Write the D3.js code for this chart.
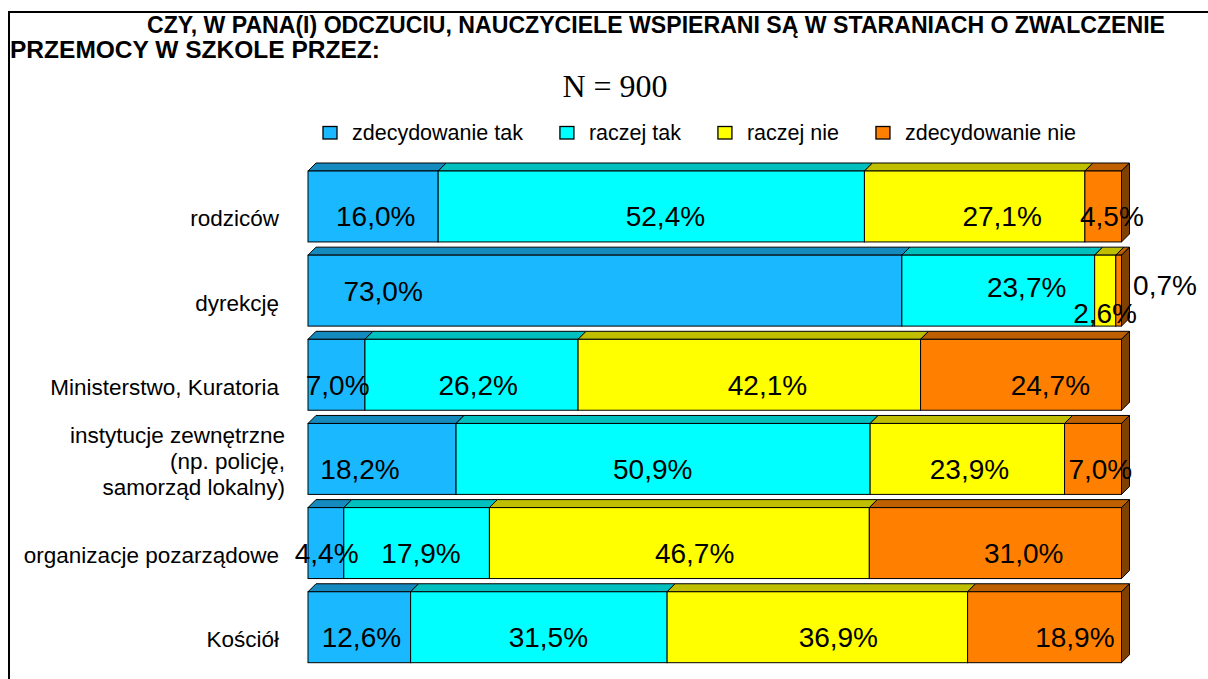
<!DOCTYPE html>
<html lang="pl">
<head>
<meta charset="utf-8">
<script src="https://cdn.jsdelivr.net/npm/d3@7"></script>
<style>
  html, body { margin: 0; padding: 0; background: #fff; }
  svg { display: block; }
</style>
</head>
<body>
<svg id="chart" width="1208" height="679"></svg>
<script>
// Survey answers, percent of respondents (N = 900)
const categories = [
  "rodziców",
  "dyrekcję",
  "Ministerstwo, Kuratoria",
  "instytucje zewnętrzne\n(np. policję,\nsamorząd lokalny)",
  "organizacje pozarządowe",
  "Kościół"
];
const seriesNames = ["zdecydowanie tak", "raczej tak", "raczej nie", "zdecydowanie nie"];
const zdecydowanieTak = [16.0, 73.0, 7.0, 18.2, 4.4, 12.6];
const raczejTak       = [52.4, 23.7, 26.2, 50.9, 17.9, 31.5];
const raczejNie       = [27.1, 2.6, 42.1, 23.9, 46.7, 36.9];
const zdecydowanieNie = [4.5, 0.7, 24.7, 7.0, 31.0, 18.9];
const titleLines = [
  "CZY, W PANA(I) ODCZUCIU, NAUCZYCIELE WSPIERANI SĄ W STARANIACH O ZWALCZENIE",
  "PRZEMOCY W SZKOLE PRZEZ:"
];
const sampleLabel = "N = 900";

// front / top / side shades of each series
const frontColors = ["#1AB8FF", "#00FFFF", "#FFFF00", "#FF8000"];
const topColors   = ["#148ABF", "#00BFBF", "#BFBF00", "#BF6000"];
const sideColors  = ["#0D5C80", "#008080", "#808000", "#804000"];

// hand-placed data labels (dx, dy in px), keyed "row|series"
const labelNudge = {
  "0|3": [-24, 0],
  "1|0": [-234, -10], "1|1": [0, -14], "1|2": [-33, 12], "1|3": [13, -16],
  "3|0": [-25, 0], "3|1": [-25, 0], "3|2": [-25, 0], "3|3": [-25, 0]
};

const svg = d3.select("#chart");
const font = "'Liberation Sans', Arial, sans-serif";
const depth = 8;

// outer frame
svg.append("rect")
  .attr("x", 9).attr("y", 12).attr("width", 1400).attr("height", 900)
  .attr("fill", "none").attr("stroke", "#000").attr("stroke-width", 2);

// title
svg.append("text").attr("x", 147).attr("y", 33)
  .attr("font-family", font).attr("font-weight", "bold").attr("font-size", 23.5)
  .attr("textLength", 1018).attr("lengthAdjust", "spacingAndGlyphs")
  .text(titleLines[0]);
svg.append("text").attr("x", 10).attr("y", 58)
  .attr("font-family", font).attr("font-weight", "bold").attr("font-size", 23.5)
  .attr("textLength", 370).attr("lengthAdjust", "spacingAndGlyphs")
  .text(titleLines[1]);

svg.append("text").attr("x", 615).attr("y", 97).attr("text-anchor", "middle")
  .attr("font-family", "'Liberation Serif', 'Times New Roman', serif").attr("font-size", 32)
  .text(sampleLabel);

// legend
const legend = svg.append("g").attr("font-family", font).attr("font-size", 21.5);
let lx = 323;
seriesNames.forEach((name, i) => {
  legend.append("rect").attr("x", lx).attr("y", 126.5).attr("width", 14).attr("height", 12.5)
    .attr("fill", frontColors[i]).attr("stroke", "#000").attr("stroke-width", 1.3);
  const t = legend.append("text").attr("x", lx + 29).attr("y", 140).text(name);
  lx += 29 + t.node().getComputedTextLength() + 37;
});

// scales
const x = d3.scaleLinear().domain([0, 100]).range([308, 1121.5]);
const xLabel = d3.scaleLinear().domain([0, 100]).range([308, 1155]);
const y = d3.scaleBand().domain(categories).range([164.4, 669.3])
  .paddingInner(0.157).paddingOuter(0.0785);

const valuesBySeries = [zdecydowanieTak, raczejTak, raczejNie, zdecydowanieNie];
const rows = categories.map((c, r) => {
  const vals = valuesBySeries.map(s => s[r]);
  const total = d3.sum(vals);
  let acc = 0;
  const segs = vals.map((v, i) => {
    const s = { row: r, series: i, value: v, start: acc / total * 100 };
    acc += v;
    s.end = acc / total * 100;
    return s;
  });
  return { category: c, segs };
});

const pl = d3.formatLocale({ decimal: ",", thousands: " ", grouping: [3], currency: ["", " zł"] });
const fmt = pl.format(".1f");

const bars = svg.append("g");
rows.forEach(row => {
  const top = y(row.category);
  const h = y.bandwidth();
  const g = bars.append("g");
  // top faces
  row.segs.forEach(s => {
    const a = x(s.start), b = x(s.end);
    g.append("path")
      .attr("d", `M${a},${top}L${a + depth},${top - depth}L${b + depth},${top - depth}L${b},${top}Z`)
      .attr("fill", topColors[s.series]).attr("stroke", "#000").attr("stroke-width", 1)
      .attr("stroke-linejoin", "round");
  });
  // right side of the last segment
  const last = row.segs[row.segs.length - 1];
  const e = x(last.end);
  g.append("path")
    .attr("d", `M${e},${top}L${e + depth},${top - depth}L${e + depth},${top + h - depth}L${e},${top + h}Z`)
    .attr("fill", sideColors[last.series]).attr("stroke", "#000").attr("stroke-width", 1)
    .attr("stroke-linejoin", "round");
  // front faces
  row.segs.forEach(s => {
    g.append("rect")
      .attr("x", x(s.start)).attr("y", top)
      .attr("width", x(s.end) - x(s.start)).attr("height", h)
      .attr("fill", frontColors[s.series]).attr("stroke", "#000").attr("stroke-width", 1);
  });
});

// value labels
const labels = svg.append("g").attr("font-family", font).attr("font-size", 28)
  .attr("text-anchor", "middle").attr("fill", "#000");
rows.forEach(row => {
  const cy = y(row.category) + y.bandwidth() / 2;
  row.segs.forEach(s => {
    const n = labelNudge[s.row + "|" + s.series] || [0, 0];
    labels.append("text")
      .attr("x", xLabel((s.start + s.end) / 2) + n[0])
      .attr("y", cy + 20 + n[1])
      .text(fmt(s.value) + "%");
  });
});

// category labels
const cats = svg.append("g").attr("font-family", font).attr("font-size", 22.5)
  .attr("text-anchor", "end").attr("fill", "#000");
categories.forEach(c => {
  const lines = c.split("\n");
  const cy = y(c) + y.bandwidth() / 2;
  const t = cats.append("text");
  lines.forEach((ln, i) => {
    t.append("tspan")
      .attr("x", lines.length > 1 ? 285 : 279)
      .attr("y", cy + 20 + (i - (lines.length - 1) / 2) * 26 - (lines.length > 1 ? 10 : 0))
      .text(ln);
  });
});
</script>
</body>
</html>
